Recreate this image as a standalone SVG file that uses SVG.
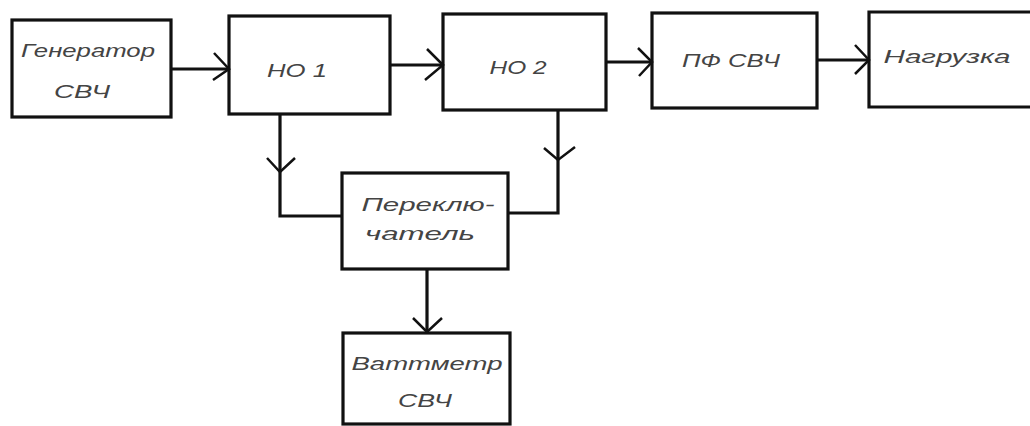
<svg xmlns="http://www.w3.org/2000/svg" width="1030" height="426" viewBox="0 0 1030 426">
<defs>
<style>
.box{fill:#fff;stroke:#111;stroke-width:3.2}
.ln{fill:none;stroke:#111;stroke-width:3.2}
.ah{fill:none;stroke:#111;stroke-width:2.5}
.t{font-family:"Liberation Sans","DejaVu Sans",sans-serif;font-style:italic;font-size:19px;fill:#444;text-anchor:middle}
</style>
</defs>
<rect width="1030" height="426" fill="#fff"/>
<g id="generator">
<rect class="box" x="12" y="20" width="159" height="97"/>
<text class="t" x="88" y="57" textLength="134" lengthAdjust="spacingAndGlyphs">Генератор</text>
<text class="t" x="82" y="98" textLength="56" lengthAdjust="spacingAndGlyphs">СВЧ</text>
</g>
<g id="no1">
<rect class="box" x="229" y="16" width="161" height="98"/>
<text class="t" x="297" y="77" textLength="60" lengthAdjust="spacingAndGlyphs">НО 1</text>
</g>
<g id="no2">
<rect class="box" x="443" y="14" width="163" height="96"/>
<text class="t" x="518" y="74" textLength="57" lengthAdjust="spacingAndGlyphs">НО 2</text>
</g>
<g id="pf">
<rect class="box" x="652" y="13" width="165" height="95"/>
<text class="t" x="731" y="67" textLength="98" lengthAdjust="spacingAndGlyphs">ПФ СВЧ</text>
</g>
<g id="load">
<path class="box" d="M1032,12 H869 V107 H1032"/>
<text class="t" x="947" y="63" textLength="127" lengthAdjust="spacingAndGlyphs">Нагрузка</text>
</g>
<g id="switch">
<rect class="box" x="342" y="173" width="166" height="96"/>
<text class="t" x="428" y="211" textLength="133" lengthAdjust="spacingAndGlyphs">Переклю-</text>
<text class="t" x="420" y="240" textLength="110" lengthAdjust="spacingAndGlyphs">чатель</text>
</g>
<g id="wattmeter">
<rect class="box" x="343" y="333" width="167" height="91"/>
<text class="t" x="427" y="370" textLength="151" lengthAdjust="spacingAndGlyphs">Ваттметр</text>
<text class="t" x="425" y="407" textLength="54" lengthAdjust="spacingAndGlyphs">СВЧ</text>
</g>
<g id="connectors">
<path class="ln" d="M171,69 H229"/>
<path class="ah" d="M214,53 L229,69 L213,80"/>
<path class="ln" d="M390,65 H443"/>
<path class="ah" d="M427,49 L443,65 L425,80"/>
<path class="ln" d="M606,62 H652"/>
<path class="ah" d="M638,48 L652,62 L639,76"/>
<path class="ln" d="M817,60 H869"/>
<path class="ah" d="M855,45 L869,60 L855,74"/>
<path class="ln" d="M280,114 V216 H342"/>
<path class="ah" d="M267,158 L280,172 L295,158"/>
<path class="ln" d="M558,110 V213 H508"/>
<path class="ah" d="M544,148 L558,160 L575,147"/>
<path class="ln" d="M427,269 V333"/>
<path class="ah" d="M413,318 L427,332 L442,318"/>
</g>
</svg>
